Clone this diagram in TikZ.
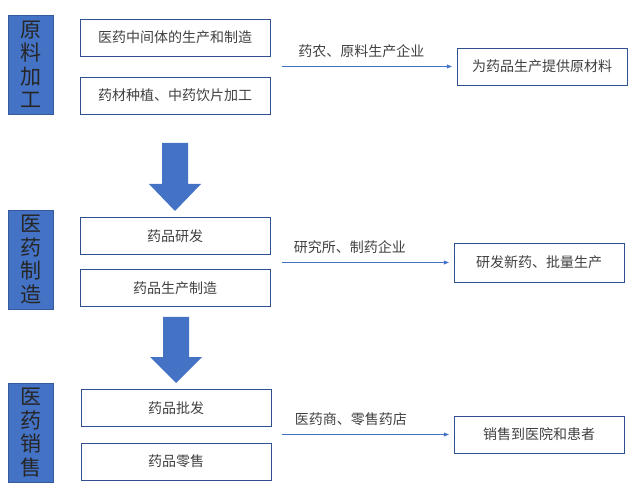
\documentclass[tikz,border=0pt]{standalone}
\usepackage{fontspec}
\setmainfont{Noto Sans CJK SC}
\usetikzlibrary{arrows.meta}

\definecolor{stageblue}{HTML}{4472C4}
\definecolor{boxline}{HTML}{2F528F}
\definecolor{txtgray}{HTML}{404040}

\tikzset{
  stage/.style={fill=stageblue, draw=stageblue!80!black, minimum width=45, minimum height=99,
    inner sep=0pt, align=center, text=black!85, font=\fontsize{21}{23.5}\selectfont},
  stepbox/.style={draw=boxline, thin, minimum width=190, minimum height=37, inner sep=0pt,
    text=txtgray, font=\fontsize{14}{16}\selectfont},
  resbox/.style={stepbox, minimum width=170},
  flow/.style={stageblue, thin, -{Triangle[length=5pt,width=4pt]}, shorten >=5pt},
  flowlabel/.style={above=9pt, text=txtgray, font=\fontsize{14}{16}\selectfont, inner sep=0pt}
}

\begin{document}
\begin{tikzpicture}[x=1pt, y=-1pt]
            \useasboundingbox (0,0) rectangle (640,486);

            \node[stage] (rawstage) at (30.5,64.5) {原\\料\\加\\工};
            \node[stage] (makestage) at (30.5,259.5) {医\\药\\制\\造};
            \node[stage] (salestage) at (31,432.5) {医\\药\\销\\售};

            \node[stepbox] (inter) at (175,37.5) {医药中间体的生产和制造};
            \node[stepbox] (herb) at (175,95.5) {药材种植、中药饮片加工};
            \node[stepbox] (rnd) at (175,236) {药品研发};
            \node[stepbox] (prod) at (175,288) {药品生产制造};
            \node[stepbox] (whole) at (176,408) {药品批发};
            \node[stepbox] (retail) at (176,461.5) {药品零售};

            \node[resbox] (supply) at (542,66.5) {为药品生产提供原材料};
            \node[resbox, minimum height=39] (newdrug) at (539,262.5) {研发新药、批量生产};
            \node[resbox] (market) at (539,434.5) {销售到医院和患者};

            \coordinate (supplyfrom) at (282,66.5);
            \coordinate (newdrugfrom) at (282,262.5);
            \coordinate (marketfrom) at (282,434.5);

            \draw[flow] (supplyfrom) -- node[flowlabel, xshift=-8pt] {药农、原料生产企业} (supply);
            \draw[flow] (newdrugfrom) -- node[flowlabel, xshift=-18pt] {研究所、制药企业} (newdrug);
            \draw[flow] (marketfrom) -- node[flowlabel, xshift=-17pt] {医药商、零售药店} (market);

            % big arrows between the stages
            \fill[stageblue] (162,143) -- (188,143) -- (188,184) -- (201,184) -- (175,211) -- (149,184) -- (162,184) -- cycle;
            \fill[stageblue] (163,317) -- (189,317) -- (189,357) -- (202,357) -- (176,383) -- (150,357) -- (163,357) -- cycle;
\end{tikzpicture}
\end{document}
